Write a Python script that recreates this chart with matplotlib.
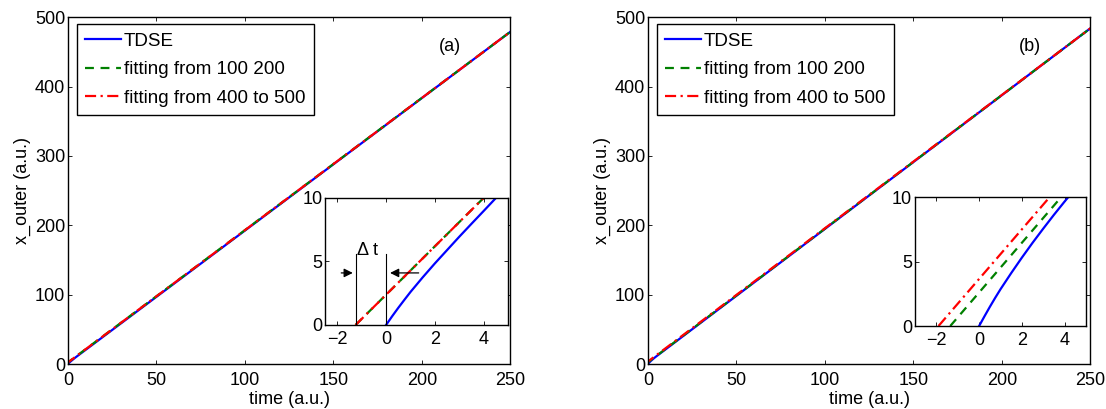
"""Outer turning point vs time: TDSE against two linear fits, panels (a) and (b)."""
import matplotlib
matplotlib.use('Agg')
import matplotlib.pyplot as plt

plt.rcParams['font.family'] = ['Liberation Sans', 'DejaVu Sans']

# panel (a)
t_tdse_a = [0, 0.25, 0.5, 0.75, 1, 1.5, 2, 2.5, 3, 3.5, 4, 4.5, 250]
x_tdse_a = [0, 0.69, 1.35, 1.98, 2.6, 3.75, 4.85, 5.9, 6.95, 7.97, 8.98, 10.0, 479]
t_fit1_a = [-1.25, 250]
x_fit1_a = [0, 479]
t_fit2_a = [-1.25, 250]
x_fit2_a = [0, 479]

# panel (b)
t_tdse_b = [0, 0.25, 0.5, 0.75, 1, 1.5, 2, 2.5, 3, 3.5, 4, 4.4, 250]
x_tdse_b = [0, 0.75, 1.48, 2.18, 2.85, 4.1, 5.3, 6.45, 7.55, 8.62, 9.65, 10.45, 484]
t_fit1_b = [-1.35, 250]
x_fit1_b = [0, 484]
t_fit2_b = [-1.9, 250]
x_fit2_b = [0, 484]

labels = ['TDSE', 'fitting from 100 200', 'fitting from 400 to 500']
main_xticks = [0, 50, 100, 150, 200, 250]
main_yticks = [0, 100, 200, 300, 400, 500]
inset_xticks = [-2, 0, 2, 4]
inset_yticks = [0, 5, 10]

FS = 13


def style(ax, fs=FS, xpad=2):
    ax.tick_params(direction='in', top=True, right=True, labelsize=fs,
                   length=3, width=0.6, pad=2)
    ax.tick_params(axis='x', pad=xpad)
    for sp in ax.spines.values():
        sp.set_linewidth(1.0)


def draw(ax, t0, x0, t1, x1, t2, x2, lab=True):
    ax.plot(t0, x0, color='#0000ff', lw=1.6, label=labels[0] if lab else None)
    ax.plot(t1, x1, color='#008000', lw=1.6, ls=(0, (4, 3)),
            label=labels[1] if lab else None)
    ax.plot(t2, x2, color='#ff0000', lw=1.6, ls=(0, (5, 2, 1, 2)),
            label=labels[2] if lab else None)


fig = plt.figure(figsize=(11.06, 4.09), dpi=100)
axA = fig.add_axes([0.0615, 0.110, 0.400, 0.848])
axB = fig.add_axes([0.5859, 0.110, 0.400, 0.848])

panels = [(axA, '(a)', (t_tdse_a, x_tdse_a, t_fit1_a, x_fit1_a, t_fit2_a, x_fit2_a)),
          (axB, '(b)', (t_tdse_b, x_tdse_b, t_fit1_b, x_fit1_b, t_fit2_b, x_fit2_b))]

for ax, tag, d in panels:
    draw(ax, *d)
    ax.set_xlim(0, 250)
    ax.set_ylim(0, 500)
    ax.set_xticks(main_xticks)
    ax.set_yticks(main_yticks)
    ax.set_xlabel('time (a.u.)', fontsize=FS, labelpad=1)
    ax.set_ylabel('x_outer (a.u.)', fontsize=FS, labelpad=3)
    style(ax, xpad=6)
    ax.text(216, 458, tag, fontsize=FS, ha='center', va='center')
    leg = ax.legend(loc='upper left', fontsize=13.6, fancybox=False,
                    edgecolor='black', framealpha=1, handlelength=1.9,
                    handletextpad=0.15, borderaxespad=0.0, labelspacing=0.6,
                    borderpad=0.45, bbox_to_anchor=(0.02, 0.98))
    leg.get_frame().set_linewidth(1.0)

# insets
insA = fig.add_axes([0.2939, 0.2054, 0.1655, 0.3105])
insB = fig.add_axes([0.8273, 0.2029, 0.1546, 0.3154])
draw(insA, *panels[0][2], lab=False)
draw(insB, *panels[1][2], lab=False)
for ins, xl in ((insA, (-2.5, 5)), (insB, (-3, 5))):
    ins.set_xlim(*xl)
    ins.set_ylim(0, 10)
    ins.set_xticks(inset_xticks)
    ins.set_yticks(inset_yticks)
    style(ins, xpad=4)

# delta-t marker in inset (a)
insA.plot([t_fit1_a[0], t_fit1_a[0]], [0, 5.6], color='black', lw=0.8)
insA.plot([0, 0], [0, 5.6], color='black', lw=0.8)
insA.text(-1.2, 5.9, '\u0394 t', fontsize=FS, ha='left', va='center')
arrow = dict(arrowstyle='-|>', color='black', lw=0.9, mutation_scale=13)
insA.annotate('', xy=(t_fit1_a[0], 4.1), xytext=(-1.95, 4.1),
              arrowprops=arrow)
insA.annotate('', xy=(0.05, 4.1), xytext=(1.45, 4.1), arrowprops=arrow)

fig.savefig('out.png', dpi=100)
